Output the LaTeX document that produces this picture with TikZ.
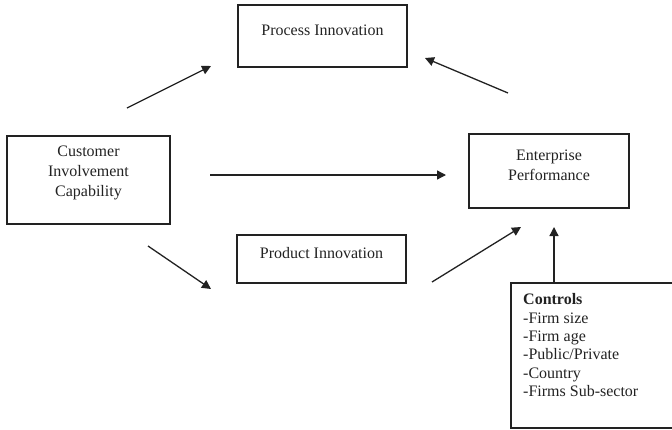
\documentclass[tikz,border=0pt]{standalone}
\usepackage{fontspec}
\setmainfont{Liberation Serif}
\usetikzlibrary{arrows.meta,calc}
\definecolor{ink}{HTML}{222222}
\begin{document}
\begin{tikzpicture}[x=1pt,y=-1pt,
  boxst/.style={draw=ink, line width=1.3pt, inner sep=0pt, minimum width=#1},
  lbl/.style={text=ink, inner sep=0pt, align=center, font=\fontsize{16}{20}\selectfont},
  conn/.style={draw=ink, line width=1.3pt, -{Triangle[length=9pt,width=9pt]}}]
\clip (0,0) rectangle (672,429);
\useasboundingbox (0,0) rectangle (672,429);
% boxes
\node[boxst=169pt, minimum height=62pt] (proc) at (322.5,36) {};
\node[boxst=163pt, minimum height=88pt] (cust) at (88.5,180) {};
\node[boxst=160pt, minimum height=74pt] (ent) at (549,171) {};
\node[boxst=169pt, minimum height=48pt] (prod) at (321.5,259) {};
\draw[draw=ink, line width=1.3pt] (690,283) -- (511,283) coordinate (ctl) -- (511,428) -- (690,428);
% texts
\node[lbl] (proctext) at (322.5,30) {Process Innovation};
\node[lbl] (custtext) at (88.5,173) {Customer\\Involvement\\Capability};
\node[lbl] (enttext) at (549,165) {Enterprise\\Performance};
\node[lbl] (prodtext) at (321.5,253) {Product Innovation};
\node[lbl, align=left, anchor=north west, font=\fontsize{16}{18.3}\selectfont] (ctltext) at (523,293.5)
  {\textbf{Controls}\\-Firm size\\-Firm age\\-Public/Private\\-Country\\-Firms Sub-sector};
% arrow endpoints
\coordinate (a1s) at (127,108); \coordinate (a1e) at (211,66);
\coordinate (a2s) at (508,93);  \coordinate (a2e) at (425,58);
\coordinate (a3s) at (210,175); \coordinate (a3e) at (446,175);
\coordinate (a4s) at (148,246); \coordinate (a4e) at (211,289);
\coordinate (a5s) at (432,282); \coordinate (a5e) at (521,227);
\coordinate (a6s) at (554,283); \coordinate (a6e) at (554,227);
\draw[conn] (a1s) -- (a1e);
\draw[conn] (a2s) -- (a2e);
\draw[conn] (a3s) -- (a3e);
\draw[conn] (a4s) -- (a4e);
\draw[conn] (a5s) -- (a5e);
\draw[conn] (a6s) -- (a6e);
\end{tikzpicture}
\end{document}
